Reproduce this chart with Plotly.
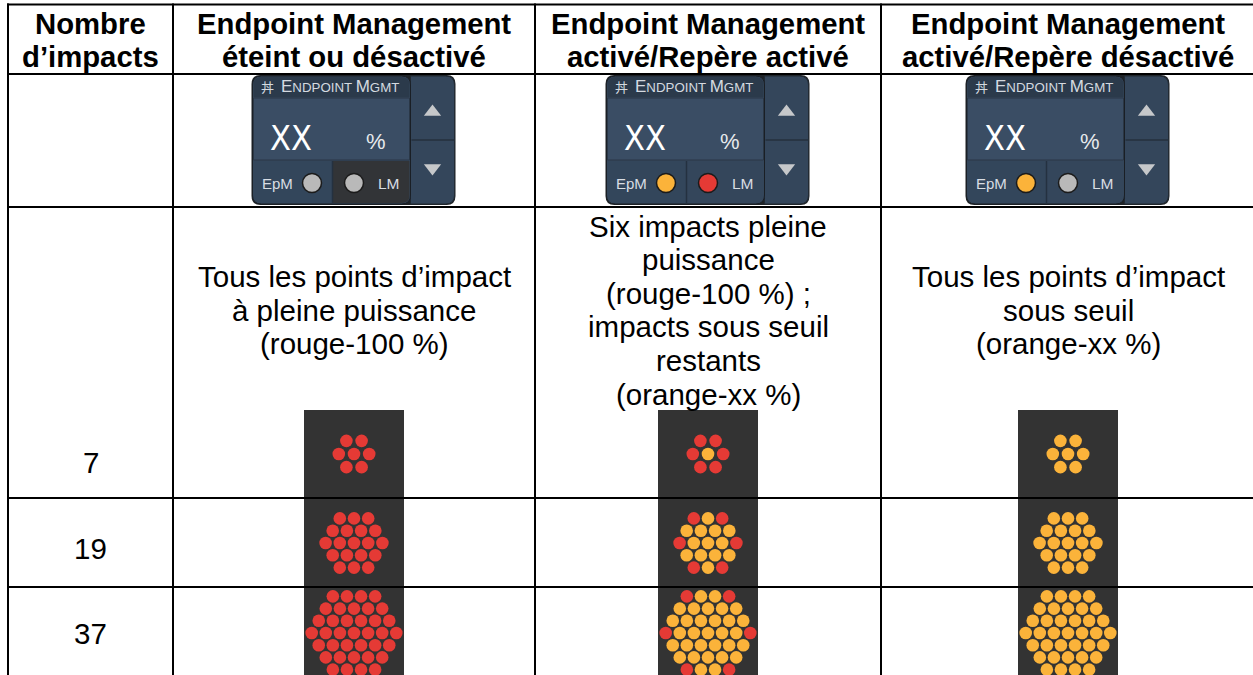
import plotly.graph_objects as go

W, H = 1253, 675

# ---------------- data ----------------
header_col1 = ["Nombre", "d’impacts"]
header_cols = [["Endpoint Management", "éteint ou désactivé"],
               ["Endpoint Management", "activé/Repère activé"],
               ["Endpoint Management", "activé/Repère désactivé"]]
descriptions = [["Tous les points d’impact", "à pleine puissance", "(rouge-100 %)"],
                ["Six impacts pleine", "puissance", "(rouge-100 %) ;",
                 "impacts sous seuil", "restants", "(orange-xx %)"],
                ["Tous les points d’impact", "sous seuil", "(orange-xx %)"]]
impact_counts = [7, 19, 37]
hex_rings = [1, 2, 3]
dot_modes = ["all_red", "corners_red", "all_orange"]
epm_led = ["gray", "orange", "orange"]
lm_led = ["gray", "red", "gray"]
lm_enabled = [False, True, True]
widget_value = "XX"
widget_unit = "%"

# ---------------- style / layout ----------------
FONT = "Liberation Sans, Arial, sans-serif"
RED, ORANGE, GRAY = "#e53a35", "#fbb33a", "#b9b9b9"
LED = {"gray": GRAY, "orange": ORANGE, "red": RED}
col_edges = [8, 173, 535, 881]
col_centers = [90.5, 354, 708, 1068]
row_lines = [4.5, 74, 207, 498, 587]
num_y = [462, 548, 633]
dot_cy = [454, 543, 633]
dot_dx = [15.2, 14.2, 14.1]
DOT_SIZE = 12.6
panel_w = 100
panel_top = 410
HEAD_SIZE = 29.3
BODY_SIZE = 29.5

fig = go.Figure()
shapes = []
ann = []


def rrect(x0, y0, x1, y1, r=(0, 0, 0, 0)):
    tl, tr, br, bl = r
    return (f"M {x0+tl},{y0} L {x1-tr},{y0} Q {x1},{y0} {x1},{y0+tr} "
            f"L {x1},{y1-br} Q {x1},{y1} {x1-br},{y1} L {x0+bl},{y1} "
            f"Q {x0},{y1} {x0},{y1-bl} L {x0},{y0+tl} Q {x0},{y0} {x0+tl},{y0} Z")


def add_path(path, fill, line=None, lw=0):
    shapes.append(dict(type="path", path=path, xref="x", yref="y",
                       fillcolor=fill, line=dict(color=line or fill, width=lw),
                       layer="below"))


def add_text(x, y, text, size, color="black", bold=False, family=FONT, xanchor="center"):
    t = f"<b>{text}</b>" if bold else text
    ann.append(dict(x=x, y=y, xref="x", yref="y", text=t, showarrow=False,
                    xanchor=xanchor, yanchor="middle",
                    font=dict(family=family, size=size, color=color)))


# dark panels under dot patterns
for c in range(3):
    cx = col_centers[c + 1]
    add_path(rrect(cx - panel_w / 2, panel_top, cx + panel_w / 2, H + 2), "#333333")

# widgets
for c in range(3):
    cx = col_centers[c + 1] - 0.5
    blue = "#34465b"
    add_path(rrect(cx - 102, 75, cx + 102, 205, (9, 9, 9, 9)), "#1f2327")
    # right arrow column
    add_path(rrect(cx + 57, 76, cx + 101, 204, (0, 9, 9, 0)), blue, "#222a33", 1)
    shapes.append(dict(type="line", x0=cx + 58, x1=cx + 101, y0=140, y1=140,
                       line=dict(color="#24303d", width=1.5), layer="below"))
    # main block
    add_path(rrect(cx - 101, 76, cx + 57, 204, (9, 9, 9, 9)), blue, "#1a1f25", 1)
    add_path(rrect(cx - 100, 77, cx + 56, 97, (8, 8, 0, 0)), "#2b3a4b")
    add_path(rrect(cx - 100, 98, cx + 56, 160, (0, 0, 0, 0)), "#3a4d64", "#2a3746", 1)
    right_fill = blue if lm_enabled[c] else "#323437"
    add_path(rrect(cx - 21, 161, cx + 56, 203, (0, 0, 8, 0)), right_fill)
    add_path(rrect(cx - 100, 161, cx - 21, 203, (0, 0, 0, 8)), "#33465b")
    shapes.append(dict(type="line", x0=cx - 21, x1=cx - 21, y0=161, y1=203,
                       line=dict(color="#243140", width=1.5), layer="below"))
    # texts
    add_text(cx - 86, 86, "丼", 13, "#d5dae0", family="Noto Sans CJK JP")
    add_text(cx - 75, 86,
             "<span style='font-size:17px'>E</span>NDPOINT <span style='font-size:17px'>M</span>GMT",
             13.3, "#d5dae0", xanchor="left")
    add_text(cx - 63, 138, widget_value, 34, "white",
             family="Liberation Sans Narrow, DejaVu Sans Condensed, Roboto, sans-serif")
    add_text(cx + 22, 141, widget_unit, 22, "#e6e9ec")
    add_text(cx - 76, 183, "EpM", 15, "#d8dde3")
    add_text(cx + 35, 183, "LM", 15.5, "#d8dde3")
    fig.add_trace(go.Scatter(
        x=[cx - 41.5, cx + 0.5], y=[183, 183], mode="markers", hoverinfo="skip",
        marker=dict(size=19, color=[LED[epm_led[c]], LED[lm_led[c]]],
                    line=dict(color="#1b1b1b", width=1.5))))
    fig.add_trace(go.Scatter(
        x=[cx + 79, cx + 79], y=[112, 168], mode="markers", hoverinfo="skip",
        marker=dict(size=15, symbol=["triangle-up", "triangle-down"],
                    color="#c6c8ca", line=dict(width=0))))

# table grid lines
for y in row_lines:
    shapes.append(dict(type="line", x0=col_edges[0] - 1, x1=W + 10, y0=y, y1=y,
                       line=dict(color="black", width=2), layer="below"))
for x in col_edges:
    shapes.append(dict(type="line", x0=x, x1=x, y0=row_lines[0] - 1, y1=H + 10,
                       line=dict(color="black", width=2), layer="below"))

# header
for i, line in enumerate(header_col1):
    add_text(col_centers[0], 23 + 33 * i, line, HEAD_SIZE, bold=True)
for c, lines in enumerate(header_cols):
    for i, line in enumerate(lines):
        add_text(col_centers[c + 1], 23 + 33 * i, line, HEAD_SIZE, bold=True)

# descriptions
DESC_MID, DESC_STEP = 310, 33.6
for c, lines in enumerate(descriptions):
    n = len(lines)
    for i, line in enumerate(lines):
        add_text(col_centers[c + 1], DESC_MID + (i - (n - 1) / 2) * DESC_STEP, line, BODY_SIZE)

# impact counts
for r, n in enumerate(impact_counts):
    add_text(col_centers[0], num_y[r], str(n), BODY_SIZE)

# dot patterns
for r, rings in enumerate(hex_rings):
    dx = dot_dx[r]
    dy = dx * 0.866
    for c in range(3):
        cx = col_centers[c + 1]
        xs, ys, cols = [], [], []
        for row in range(-rings, rings + 1):
            cnt = 2 * rings + 1 - abs(row)
            for i in range(cnt):
                xs.append(cx + (i - (cnt - 1) / 2) * dx)
                ys.append(dot_cy[r] + row * dy)
                corner = (i in (0, cnt - 1)) and (row in (-rings, 0, rings))
                mode = dot_modes[c]
                if mode == "all_red" or (mode == "corners_red" and corner):
                    cols.append(RED)
                else:
                    cols.append(ORANGE)
        fig.add_trace(go.Scatter(x=xs, y=ys, mode="markers", hoverinfo="skip",
                                 marker=dict(size=DOT_SIZE, color=cols, line=dict(width=0))))

fig.update_layout(
    width=W, height=H, margin=dict(l=0, r=0, t=0, b=0),
    paper_bgcolor="white", plot_bgcolor="white", showlegend=False,
    xaxis=dict(range=[0, W], visible=False, fixedrange=True),
    yaxis=dict(range=[H, 0], visible=False, fixedrange=True),
    shapes=shapes, annotations=ann,
)
fig.write_html("out.html", config={"displayModeBar": False},
               post_script="document.body.style.margin='0px';document.body.style.overflow='hidden';")
